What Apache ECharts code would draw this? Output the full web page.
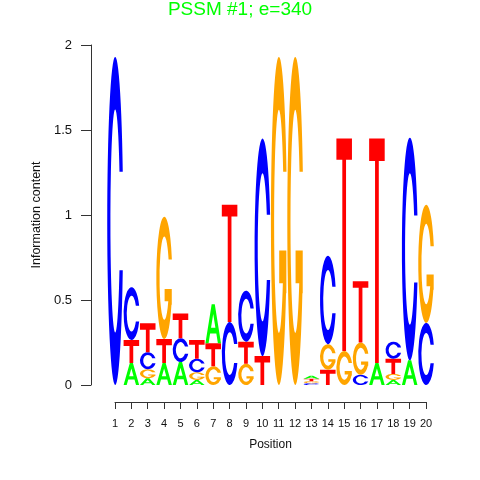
<!DOCTYPE html>
<html>
<head>
<meta charset="utf-8">
<script src="https://cdn.jsdelivr.net/npm/echarts@6/dist/echarts.min.js"></script>
<style>html,body{margin:0;padding:0;background:#fff}#c{width:480px;height:480px}</style>
</head>
<body>
<div id="c"></div>
<script>
// ---- data ----
const positions = [1,2,3,4,5,6,7,8,9,10,11,12,13,14,15,16,17,18,19,20];
const heightA = [0, 0.13, 0.04, 0.13, 0.135, 0.03, 0.23, 0, 0, 0, 0, 0, 0.017, 0, 0, 0, 0.13, 0.03, 0.145, 0];
const heightC = [1.93, 0.31, 0.10, 0, 0.14, 0.08, 0, 0.37, 0.30, 1.28, 0, 0, 0.010, 0.52, 0, 0.06, 0, 0.10, 1.31, 0.365];
const heightG = [0, 0, 0.053, 0.72, 0, 0.045, 0.11, 0, 0.125, 0, 1.93, 1.93, 0.012, 0.15, 0.20, 0.19, 0, 0.035, 0, 0.695];
const heightT = [0, 0.135, 0.17, 0.14, 0.145, 0.11, 0.135, 0.69, 0.13, 0.17, 0, 0, 0.015, 0.09, 1.25, 0.36, 1.32, 0.09, 0, 0];
const yTicks = [0, 0.5, 1, 1.5, 2];
const titleText = 'PSSM #1; e=340';

// ---- glyph outlines (unit box 0..100) ----
const GLYPHS = {
  A: () => 'M0 100 L40 0 L60 0 L100 100 L80 100 L70 75 L30 75 L20 100 Z M36 60 L64 60 L50 25 Z',
  C: () => 'M97.7 35 A50 50 0 1 0 97.7 65 L76.9 65 A30 34 0 1 1 76.9 35 Z',
  G: () => 'M97.7 35 A50 50 0 1 0 94.9 72 L97 72 L97 59 L52 59 L52 69 L75 69 A30 34 0 1 1 76.9 35 Z',
  // crossbar thickness (in % of glyph height) depends on rendered height
  T: (hPx) => {
    const bar = Math.min(40, 100 * Math.max(0.1 * hPx, Math.min(0.26 * hPx, 6.5)) / Math.max(hPx, 0.01));
    return 'M0 0 L100 0 L100 ' + bar + ' L62 ' + bar + ' L62 100 L38 100 L38 ' + bar + ' L0 ' + bar + ' Z';
  }
};
const COLORS = { A: '#00FF00', C: '#0000FF', G: '#FFA500', T: '#FF0000' };
const LETTERS = ['A','C','G','T'];

const data = positions.map((p, i) => [p, heightA[i], heightC[i], heightG[i], heightT[i]]);

function renderItem(params, api) {
  const x = api.value(0);
  const vals = LETTERS.map((l, k) => [l, api.value(k + 1)])
    .filter(v => v[1] > 0)
    .sort((a, b) => a[1] - b[1]);
  const w = api.size([1, 0])[0] * 0.95;
  let base = 0;
  const children = [];
  for (const [l, h] of vals) {
    const p0 = api.coord([x, base]);
    const p1 = api.coord([x, base + h]);
    const hPx = Math.max(0.3, p0[1] - p1[1]);
    children.push({
      type: 'path',
      shape: { pathData: GLYPHS[l](hPx), x: p0[0] - w / 2, y: p1[1], width: w, height: hPx, layout: 'cover' },
      style: { fill: COLORS[l] }
    });
    base += h;
  }
  return { type: 'group', children };
}

const spacing = 16.37;
const firstX = 115;
const chart = echarts.init(document.getElementById('c'), null, { renderer: 'canvas' });
const axisColor = '#333';
const font = 'Liberation Sans, Arial, sans-serif';
chart.setOption({
  animation: false,
  backgroundColor: '#fff',
  title: {
    text: titleText, left: 'center', top: -5,
    textStyle: { color: '#00FF00', fontSize: 19, fontWeight: 'normal', fontFamily: font }
  },
  grid: [
    { left: firstX - 0.5 * spacing, width: 20 * spacing, top: 45, height: 340 },
    { left: firstX, width: 19 * spacing, top: 45, height: 340 }
  ],
  xAxis: [
    { gridIndex: 0, type: 'value', min: 0.5, max: 20.5, show: false },
    {
      gridIndex: 1, type: 'value', min: 1, max: 20, interval: 1, offset: 17, position: 'bottom',
      axisLine: { show: true, onZero: false, lineStyle: { color: axisColor, width: 1 } },
      axisTick: { show: true, length: 7, lineStyle: { color: axisColor } },
      splitLine: { show: false },
      axisLabel: { fontSize: 11, color: '#111', margin: 16, fontFamily: font, showMinLabel: true, showMaxLabel: true },
      name: 'Position', nameLocation: 'middle', nameGap: 37,
      nameTextStyle: { fontSize: 12, color: '#111', fontFamily: font }
    }
  ],
  yAxis: [
    {
      gridIndex: 0, type: 'value', min: 0, max: 2, interval: 0.5, offset: firstX - 0.5 * spacing - 91,
      axisLine: { show: true, onZero: false, lineStyle: { color: axisColor, width: 1 } },
      axisTick: { show: true, length: 10, lineStyle: { color: axisColor } },
      splitLine: { show: false },
      axisLabel: { fontSize: 13, color: '#111', margin: 19, fontFamily: font,
        formatter: v => (yTicks.indexOf(v) >= 0 ? String(v) : '') },
      name: 'Information content', nameLocation: 'middle', nameGap: 48,
      nameTextStyle: { fontSize: 12.5, color: '#111', fontFamily: font }
    },
    { gridIndex: 1, type: 'value', min: 0, max: 2, show: false }
  ],
  series: [{
    type: 'custom',
    xAxisIndex: 0, yAxisIndex: 0,
    renderItem: renderItem,
    data: data,
    clip: false
  }]
});
</script>
</body>
</html>
